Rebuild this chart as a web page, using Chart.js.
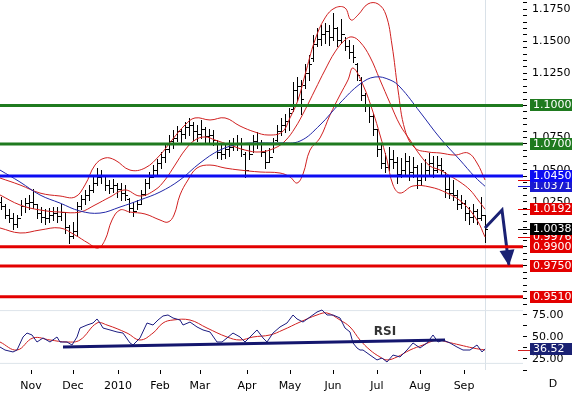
<!DOCTYPE html>
<html>
<head>
<meta charset="utf-8">
<script src="https://cdn.jsdelivr.net/npm/chart.js@4.4.1/dist/chart.umd.min.js"></script>
<style>
  html, body { margin: 0; padding: 0; background: #fff; }
  #wrap { position: relative; width: 572px; height: 394px; overflow: hidden; }
  #price { position: absolute; left: 0; top: 0; }
  #rsi { position: absolute; left: 0; top: 305px; }
</style>
</head>
<body>
<div id="wrap">
  <canvas id="price" width="572" height="305"></canvas>
  <canvas id="rsi" width="572" height="89"></canvas>
</div>
<script>
// Daily bars, one every two trading days (x = trading day index from mid Oct 2009)
const barOpen = [
  1.025, 1.022, 1.015, 1.012, 1.008, 1.012, 1.022, 1.024, 1.025, 1.023,
  1.016, 1.013, 1.012, 1.015, 1.016, 1.014, 1.017, 1.005, 0.998, 1.002,
  1.022, 1.027, 1.030, 1.034, 1.040, 1.044, 1.045, 1.038, 1.036, 1.038,
  1.035, 1.032, 1.027, 1.020, 1.018, 1.023, 1.031, 1.040, 1.044, 1.050,
  1.055, 1.060, 1.066, 1.072, 1.075, 1.080, 1.078, 1.083, 1.085, 1.080,
  1.078, 1.082, 1.076, 1.077, 1.073, 1.064, 1.062, 1.066, 1.068, 1.071,
  1.070, 1.062, 1.050, 1.062, 1.072, 1.070, 1.064, 1.056, 1.060, 1.073,
  1.080, 1.085, 1.088, 1.097, 1.112, 1.115, 1.116, 1.125, 1.137, 1.148,
  1.152, 1.156, 1.158, 1.153, 1.160, 1.151, 1.156, 1.146, 1.142, 1.132,
  1.120, 1.108, 1.100, 1.092, 1.082, 1.066, 1.055, 1.052, 1.058, 1.056,
  1.047, 1.050, 1.057, 1.048, 1.052, 1.042, 1.046, 1.050, 1.055, 1.050,
  1.054, 1.046, 1.035, 1.032, 1.030, 1.023, 1.024, 1.016, 1.013, 1.018,
  1.012, 1.015
];
const barHigh = [
  1.029, 1.023, 1.019, 1.016, 1.015, 1.026, 1.028, 1.030, 1.035, 1.023,
  1.021, 1.019, 1.020, 1.021, 1.021, 1.023, 1.017, 1.007, 1.009, 1.025,
  1.030, 1.034, 1.038, 1.046, 1.051, 1.050, 1.044, 1.042, 1.043, 1.040,
  1.040, 1.038, 1.028, 1.025, 1.026, 1.034, 1.043, 1.048, 1.054, 1.058,
  1.064, 1.069, 1.077, 1.081, 1.084, 1.082, 1.087, 1.090, 1.087, 1.085,
  1.089, 1.083, 1.082, 1.081, 1.073, 1.069, 1.071, 1.073, 1.075, 1.077,
  1.075, 1.064, 1.071, 1.077, 1.079, 1.073, 1.065, 1.067, 1.075, 1.085,
  1.090, 1.093, 1.098, 1.118, 1.122, 1.120, 1.132, 1.139, 1.155, 1.160,
  1.163, 1.164, 1.163, 1.172, 1.161, 1.167, 1.153, 1.151, 1.147, 1.133,
  1.122, 1.110, 1.100, 1.093, 1.082, 1.069, 1.063, 1.068, 1.065, 1.060,
  1.059, 1.063, 1.061, 1.060, 1.054, 1.055, 1.058, 1.063, 1.061, 1.061,
  1.059, 1.048, 1.044, 1.042, 1.034, 1.030, 1.026, 1.021, 1.023, 1.019,
  1.029, 1.015
];
const barLow = [
  1.019, 1.012, 1.009, 1.004, 1.005, 1.015, 1.017, 1.019, 1.020, 1.012,
  1.009, 1.008, 1.009, 1.011, 1.009, 1.011, 1.001, 0.993, 0.997, 0.998,
  1.019, 1.023, 1.026, 1.033, 1.038, 1.040, 1.034, 1.032, 1.033, 1.029,
  1.026, 1.026, 1.017, 1.014, 1.019, 1.023, 1.030, 1.036, 1.044, 1.046,
  1.051, 1.056, 1.064, 1.067, 1.072, 1.071, 1.075, 1.077, 1.073, 1.072,
  1.075, 1.071, 1.071, 1.069, 1.059, 1.058, 1.059, 1.061, 1.065, 1.065,
  1.061, 1.044, 1.058, 1.064, 1.067, 1.061, 1.051, 1.056, 1.064, 1.072,
  1.077, 1.079, 1.081, 1.096, 1.104, 1.093, 1.114, 1.120, 1.135, 1.146,
  1.147, 1.149, 1.147, 1.151, 1.146, 1.149, 1.143, 1.137, 1.134, 1.120,
  1.104, 1.096, 1.087, 1.077, 1.061, 1.051, 1.048, 1.050, 1.051, 1.040,
  1.044, 1.046, 1.042, 1.044, 1.036, 1.038, 1.042, 1.046, 1.044, 1.048,
  1.046, 1.029, 1.028, 1.026, 1.019, 1.020, 1.011, 1.008, 1.009, 1.008,
  1.011, 0.994
];
const barClose = [
  1.022, 1.015, 1.012, 1.008, 1.012, 1.022, 1.024, 1.025, 1.023, 1.016,
  1.013, 1.012, 1.015, 1.016, 1.014, 1.017, 1.005, 0.998, 1.002, 1.022,
  1.027, 1.030, 1.034, 1.040, 1.044, 1.045, 1.038, 1.036, 1.038, 1.035,
  1.032, 1.030, 1.020, 1.018, 1.023, 1.031, 1.040, 1.044, 1.050, 1.055,
  1.060, 1.066, 1.072, 1.075, 1.080, 1.078, 1.083, 1.085, 1.080, 1.078,
  1.082, 1.076, 1.077, 1.073, 1.064, 1.062, 1.066, 1.068, 1.071, 1.070,
  1.066, 1.050, 1.062, 1.072, 1.070, 1.064, 1.056, 1.060, 1.071, 1.080,
  1.085, 1.088, 1.094, 1.112, 1.115, 1.105, 1.125, 1.132, 1.148, 1.152,
  1.156, 1.158, 1.153, 1.160, 1.151, 1.156, 1.146, 1.142, 1.138, 1.124,
  1.108, 1.100, 1.092, 1.082, 1.066, 1.055, 1.052, 1.058, 1.056, 1.047,
  1.050, 1.057, 1.048, 1.052, 1.042, 1.046, 1.050, 1.055, 1.050, 1.054,
  1.050, 1.035, 1.032, 1.030, 1.023, 1.024, 1.016, 1.013, 1.018, 1.012,
  1.015, 1.0038
];

// Bollinger bands (20) and moving average
const upperDays = [0, 10, 20, 30, 37.5, 42.5, 47.5, 52.5, 57.5, 65, 72.5, 80, 86, 92.5, 97.5, 105, 112.5, 120, 127.5, 134, 141, 145, 149, 152.5, 157.5, 162.5, 167.5, 172.5, 175.5, 179, 184, 189, 193, 196, 199, 202.5, 207.5, 214, 220, 227.5, 234, 238.5, 242.5];
const upperVals = [1.0435, 1.0381, 1.0318, 1.0295, 1.0287, 1.0381, 1.0536, 1.0591, 1.0575, 1.0497, 1.0513, 1.0614, 1.0731, 1.0848, 1.0903, 1.0887, 1.0903, 1.0840, 1.0793, 1.0770, 1.0793, 1.0903, 1.1043, 1.1238, 1.1510, 1.1682, 1.1760, 1.1760, 1.1666, 1.1705, 1.1791, 1.1791, 1.1705, 1.1471, 1.1121, 1.0809, 1.0669, 1.0638, 1.0630, 1.0614, 1.0630, 1.0552, 1.0420];
const midDays = [0, 10, 20, 30, 40, 47.5, 55, 62.5, 70, 77.5, 82.5, 87.5, 92.5, 97.5, 102.5, 107.5, 115, 122.5, 130, 137.5, 142.5, 147.5, 152.5, 157.5, 162.5, 167.5, 172.5, 176, 180, 185, 190, 195, 200, 205, 210, 215, 220, 225, 230, 235, 239, 242.5];
const midVals = [1.0303, 1.0225, 1.0186, 1.0170, 1.0170, 1.0225, 1.0287, 1.0342, 1.0295, 1.0342, 1.0420, 1.0536, 1.0653, 1.0731, 1.0755, 1.0731, 1.0692, 1.0653, 1.0638, 1.0669, 1.0723, 1.0825, 1.0965, 1.1121, 1.1276, 1.1417, 1.1510, 1.1534, 1.1495, 1.1378, 1.1199, 1.1019, 1.0848, 1.0731, 1.0614, 1.0529, 1.0497, 1.0451, 1.0404, 1.0342, 1.0264, 1.0192];
const lowerDays = [0, 10, 20, 30, 37.5, 44, 49, 52.5, 56, 60, 65, 72.5, 80, 84, 87, 90, 94, 98.5, 105, 112.5, 120, 130, 140, 145, 148.5, 151.5, 155, 160, 165, 170, 174, 176.5, 181.5, 186.5, 190, 193.5, 196.5, 200, 206.5, 215, 223.5, 231.5, 238.5, 242.5];
const lowerVals = [1.0046, 1.0007, 1.0030, 1.0046, 0.9991, 0.9929, 0.9890, 0.9952, 1.0108, 1.0186, 1.0170, 1.0155, 1.0108, 1.0092, 1.0147, 1.0303, 1.0420, 1.0513, 1.0536, 1.0513, 1.0497, 1.0482, 1.0474, 1.0443, 1.0396, 1.0466, 1.0653, 1.0747, 1.0926, 1.1082, 1.1199, 1.1292, 1.1160, 1.0949, 1.0770, 1.0575, 1.0381, 1.0318, 1.0373, 1.0365, 1.0318, 1.0240, 1.0108, 0.9976];
const maDays = [0, 10, 20, 30, 40, 50, 60, 70, 80, 90, 100, 110, 120, 130, 140, 150, 160, 170, 180, 187.5, 195, 200, 210, 220, 230, 237.5, 242.5];
const maVals = [1.0497, 1.0404, 1.0303, 1.0240, 1.0178, 1.0162, 1.0209, 1.0264, 1.0326, 1.0420, 1.0552, 1.0653, 1.0700, 1.0708, 1.0708, 1.0723, 1.0848, 1.1019, 1.1167, 1.1222, 1.1199, 1.1144, 1.0949, 1.0747, 1.0575, 1.0443, 1.0371];

// Support / resistance levels and projected path
const levelVals = [1.1000, 1.0700, 1.0450, 0.9900, 0.9750, 0.9510];
const projDays = [242.5, 251, 254.5];
const projVals = [1.0046, 1.0186, 0.9750];

// RSI panel
const rsiDays = [0, 2.5, 6.5, 8.5, 11.5, 13.5, 16, 18.5, 21.5, 25, 28.5, 30, 33.5, 36, 38.5, 40, 43.5, 46.5, 48.5, 50, 51.5, 55, 58.5, 61.5, 65, 66.5, 70, 73.5, 76.5, 79, 81.5, 84, 86.5, 90, 91.5, 95, 98.5, 101.5, 105, 108.5, 111, 113.5, 116.5, 120, 122.5, 125, 128.5, 131.5, 133.5, 136.5, 140, 143.5, 146.5, 148.5, 151.5, 155, 158.5, 161, 163.5, 166.5, 170, 172.5, 175, 176.5, 178.5, 180, 181.5, 185, 188.5, 191, 193.5, 196.5, 200, 203.5, 206.5, 210, 213.5, 216.5, 219, 221.5, 225, 228.5, 231.5, 235, 238.5, 241, 242.5];
const rsiVals = [38.6, 35.2, 33.0, 35.2, 50.0, 54.5, 52.3, 44.3, 48.9, 44.3, 50.0, 44.3, 44.3, 40.9, 50.0, 60.2, 63.6, 65.9, 70.5, 65.9, 60.2, 58.0, 55.7, 54.5, 43.2, 40.9, 48.9, 65.9, 63.6, 69.3, 73.9, 75.0, 71.6, 69.3, 63.6, 67.0, 61.4, 58.0, 55.7, 44.3, 44.3, 48.9, 54.5, 50.0, 44.3, 50.0, 58.0, 48.9, 44.3, 54.5, 61.4, 65.9, 75.0, 70.5, 67.0, 72.7, 78.4, 80.7, 75.0, 75.0, 71.6, 60.2, 55.7, 43.2, 37.5, 35.2, 35.2, 29.5, 23.9, 26.1, 21.6, 29.5, 27.3, 35.2, 43.2, 37.5, 43.2, 52.3, 44.3, 46.6, 43.2, 38.6, 35.2, 35.2, 40.9, 33.0, 36.52];
const rsiMaDays = [0, 8.5, 16.5, 25, 33.5, 40, 48.5, 53.5, 63.5, 70, 76.5, 81.5, 86.5, 95, 103.5, 113.5, 120, 126.5, 135, 141.5, 150, 158.5, 163.5, 170, 175, 180, 185, 190, 193.5, 198.5, 205, 211.5, 218.5, 223.5, 230, 236.5, 242.5];
const rsiMaVals = [44.3, 35.2, 48.9, 46.6, 44.3, 46.6, 65.9, 63.6, 54.5, 46.6, 54.5, 65.9, 69.3, 69.3, 60.2, 50.0, 46.6, 50.0, 52.3, 58.0, 67.0, 75.0, 77.3, 69.3, 61.4, 46.6, 35.2, 27.3, 23.9, 27.3, 35.2, 40.9, 46.6, 44.3, 40.9, 37.5, 35.2];
const rsiTrendDays = [31.5, 222.5];
const rsiTrendVals = [38.6, 46.6];
const rsiGuideVals = [80, 20];

// Axis labels
const monthDays = [15.5, 36.5, 59, 80, 100, 123.5, 145, 166.5, 188.5, 210, 232];
const monthLabels = ['Nov', 'Dec', '2010', 'Feb', 'Mar', 'Apr', 'May', 'Jun', 'Jul', 'Aug', 'Sep'];
const priceLabelVals = [0.95, 0.975, 1.0, 1.025, 1.05, 1.075, 1.1, 1.125, 1.15, 1.175];
const rsiTickVals = [12.5, 25, 37.5, 50, 62.5, 75];
const rsiLabelVals = [25, 50, 75];

const DAY_MAX = 261.5;
const barDay = i => 0.5 + 2 * i;
const lastDay = barDay(barClose.length - 1);
const pts = (xs, ys) => xs.map((x, i) => ({ x: x, y: ys[i] }));

const GREEN = '#1f7a1f', BLUE = '#0c0cf2', RED = '#e30000', NAVY = '#1a2173';
const levelColors = [GREEN, GREEN, BLUE, RED, RED, RED];

Chart.defaults.font.family = "'DejaVu Sans', Verdana, sans-serif";
Chart.defaults.font.size = 11;
Chart.defaults.color = '#000';

function tag(ctx, area, yPix, text, bg) {
  ctx.fillStyle = bg;
  ctx.fillRect(area.right + 7, Math.round(yPix) - 6, 60, 12);
  ctx.fillStyle = '#fff';
  ctx.textBaseline = 'middle';
  ctx.textAlign = 'left';
  ctx.fillText(text, area.right + 10, Math.round(yPix) + 0.5);
}
function mark(ctx, area, yPix, color) {
  ctx.fillStyle = color;
  ctx.fillRect(area.right - 5, Math.round(yPix), 12, 1);
}

const pricePanel = {
  id: 'pricePanel',
  beforeDatasetsDraw(chart) {
    const { ctx, chartArea: a, scales: { x, y } } = chart;
    ctx.save();
    const nx = Math.round(x.getPixelForValue(lastDay)) + 0.5;
    ctx.strokeStyle = '#d9e1e8';
    ctx.lineWidth = 1;
    ctx.beginPath(); ctx.moveTo(nx, a.top); ctx.lineTo(nx, a.bottom); ctx.stroke();

    // OHLC bars
    ctx.fillStyle = '#000';
    barClose.forEach((c, i) => {
      const px = Math.round(x.getPixelForValue(barDay(i)));
      const yh = Math.round(y.getPixelForValue(barHigh[i]));
      const yl = Math.round(y.getPixelForValue(barLow[i]));
      ctx.fillRect(px, yh, 1, Math.max(1, yl - yh + 1));
      ctx.fillRect(px - 2, Math.round(y.getPixelForValue(barOpen[i])), 2, 1);
      ctx.fillRect(px + 1, Math.round(y.getPixelForValue(c)), 2, 1);
    });
    ctx.restore();
  },
  afterDatasetsDraw(chart) {
    const { ctx, scales: { x, y } } = chart;
    // arrow head at the end of the projected path
    const n = projDays.length;
    const tx = x.getPixelForValue(projDays[n - 1]), ty = y.getPixelForValue(projVals[n - 1]);
    const fx = x.getPixelForValue(projDays[n - 2]), fy = y.getPixelForValue(projVals[n - 2]);
    const ang = Math.atan2(ty - fy, tx - fx);
    const len = 16, half = 7.5;
    const bx = tx - len * Math.cos(ang), by = ty - len * Math.sin(ang);
    ctx.save();
    ctx.fillStyle = NAVY;
    ctx.beginPath();
    ctx.moveTo(tx, ty);
    ctx.lineTo(bx + half * Math.sin(ang), by - half * Math.cos(ang));
    ctx.lineTo(bx - half * Math.sin(ang), by + half * Math.cos(ang));
    ctx.closePath();
    ctx.fill();
    ctx.restore();
  },
  afterDraw(chart) {
    const { ctx, chartArea: a, scales: { y } } = chart;
    ctx.save();
    ctx.font = "11px 'DejaVu Sans', Verdana, sans-serif";
    const last = arr => arr[arr.length - 1];
    const side = [
      [last(upperVals), RED],
      [last(maVals), '#1a1ad0'],
      [last(midVals), RED],
      [last(lowerVals), RED],
      [last(barClose), '#000']
    ];
    side.forEach(([v, col]) => {
      const py = y.getPixelForValue(v);
      mark(ctx, a, py, col);
      tag(ctx, a, py, v.toFixed(4), col);
    });
    levelVals.forEach((v, i) => tag(ctx, a, y.getPixelForValue(v), v.toFixed(4), levelColors[i]));
    ctx.restore();
  }
};

const priceTicks = [];
for (let k = 189; k <= 236; k++) priceTicks.push(k / 200);

new Chart(document.getElementById('price'), {
  type: 'line',
  data: {
    datasets: [
      ...levelVals.map((v, i) => ({
        data: [{ x: 0, y: v }, { x: DAY_MAX, y: v }],
        borderColor: levelColors[i], borderWidth: 3, pointRadius: 0
      })),
      { data: pts(projDays, projVals), borderColor: NAVY, borderWidth: 3, pointRadius: 0 },
      { data: pts(maDays, maVals), borderColor: '#2228a8', borderWidth: 1, pointRadius: 0, tension: 0.4 },
      { data: pts(upperDays, upperVals), borderColor: '#d02020', borderWidth: 1, pointRadius: 0, tension: 0.4 },
      { data: pts(midDays, midVals), borderColor: '#d02020', borderWidth: 1, pointRadius: 0, tension: 0.4 },
      { data: pts(lowerDays, lowerVals), borderColor: '#d02020', borderWidth: 1, pointRadius: 0, tension: 0.4 }
    ]
  },
  options: {
    responsive: false,
    animation: false,
    events: [],
    layout: { padding: 0 },
    plugins: { legend: { display: false }, tooltip: { enabled: false } },
    scales: {
      x: { type: 'linear', min: 0, max: DAY_MAX, display: false },
      y: {
        position: 'right',
        min: 0.94461,
        max: 1.18215,
        afterFit: s => { s.width = 49; s.paddingTop = 0; s.paddingBottom = 0; },
        afterBuildTicks: s => { s.ticks = priceTicks.map(v => ({ value: v })); },
        grid: { drawOnChartArea: false, color: '#000', tickLength: 4 },
        border: { display: false },
        ticks: {
          autoSkip: false,
          padding: 5,
          color: '#000',
          callback: v => priceLabelVals.some(p => Math.abs(p - v) < 1e-6) ? v.toFixed(4) : ''
        }
      }
    }
  },
  plugins: [pricePanel]
});

const rsiPanel = {
  id: 'rsiPanel',
  beforeDatasetsDraw(chart) {
    const { ctx, chartArea: a, scales: { x } } = chart;
    const nx = Math.round(x.getPixelForValue(lastDay)) + 0.5;
    ctx.save();
    ctx.strokeStyle = '#d9e1e8';
    ctx.lineWidth = 1;
    ctx.beginPath(); ctx.moveTo(nx, 0); ctx.lineTo(nx, a.bottom); ctx.stroke();
    ctx.restore();
  },
  afterDraw(chart) {
    const { ctx, chartArea: a, scales: { x, y } } = chart;
    ctx.save();
    ctx.font = "bold 12px 'DejaVu Sans', Verdana, sans-serif";
    ctx.fillStyle = '#333';
    ctx.textAlign = 'center';
    ctx.textBaseline = 'middle';
    ctx.fillText('RSI', x.getPixelForValue(192.5), y.getPixelForValue(55.7));

    ctx.font = "11px 'DejaVu Sans', Verdana, sans-serif";
    const maLast = rsiMaVals[rsiMaVals.length - 1];
    mark(ctx, a, y.getPixelForValue(maLast), '#d02020');
    const rLast = rsiVals[rsiVals.length - 1];
    tag(ctx, a, y.getPixelForValue(rLast), rLast.toFixed(2), NAVY);

    ctx.fillStyle = '#000';
    ctx.textAlign = 'center';
    ctx.textBaseline = 'top';
    ctx.fillText('D', a.right + 30, x.top + 9);
    ctx.restore();
  }
};

new Chart(document.getElementById('rsi'), {
  type: 'line',
  data: {
    datasets: [
      { data: pts(rsiTrendDays, rsiTrendVals), borderColor: '#14166e', borderWidth: 3, pointRadius: 0 },
      { data: pts(rsiDays, rsiVals), borderColor: '#1c1c80', borderWidth: 1, pointRadius: 0 },
      { data: pts(rsiMaDays, rsiMaVals), borderColor: '#d02020', borderWidth: 1, pointRadius: 0, tension: 0.4 },
      ...rsiGuideVals.map(v => ({
        data: [{ x: 0, y: v }, { x: DAY_MAX, y: v }],
        borderColor: '#dde4ea', borderWidth: 1, pointRadius: 0
      }))
    ]
  },
  options: {
    responsive: false,
    animation: false,
    events: [],
    layout: { padding: 0 },
    plugins: { legend: { display: false }, tooltip: { enabled: false } },
    scales: {
      x: {
        type: 'linear',
        min: 0,
        max: DAY_MAX,
        afterFit: s => { s.height = 24; s.paddingLeft = 0; s.paddingRight = 0; },
        afterBuildTicks: s => { s.ticks = monthDays.map(v => ({ value: v })); },
        grid: { drawOnChartArea: false, color: '#000', tickLength: 4 },
        border: { display: false },
        ticks: {
          autoSkip: false,
          maxRotation: 0,
          padding: 6,
          color: '#000',
          callback: (v, i) => monthLabels[i]
        }
      },
      y: {
        position: 'right',
        min: 12.5,
        max: 86.36,
        afterFit: s => { s.width = 49; s.paddingTop = 0; s.paddingBottom = 0; },
        afterBuildTicks: s => { s.ticks = rsiTickVals.map(v => ({ value: v })); },
        grid: { drawOnChartArea: false, color: '#000', tickLength: 4 },
        border: { display: false },
        ticks: {
          autoSkip: false,
          padding: 5,
          color: '#000',
          callback: v => rsiLabelVals.includes(v) ? v.toFixed(2) : ''
        }
      }
    }
  },
  plugins: [rsiPanel]
});
</script>
</body>
</html>
